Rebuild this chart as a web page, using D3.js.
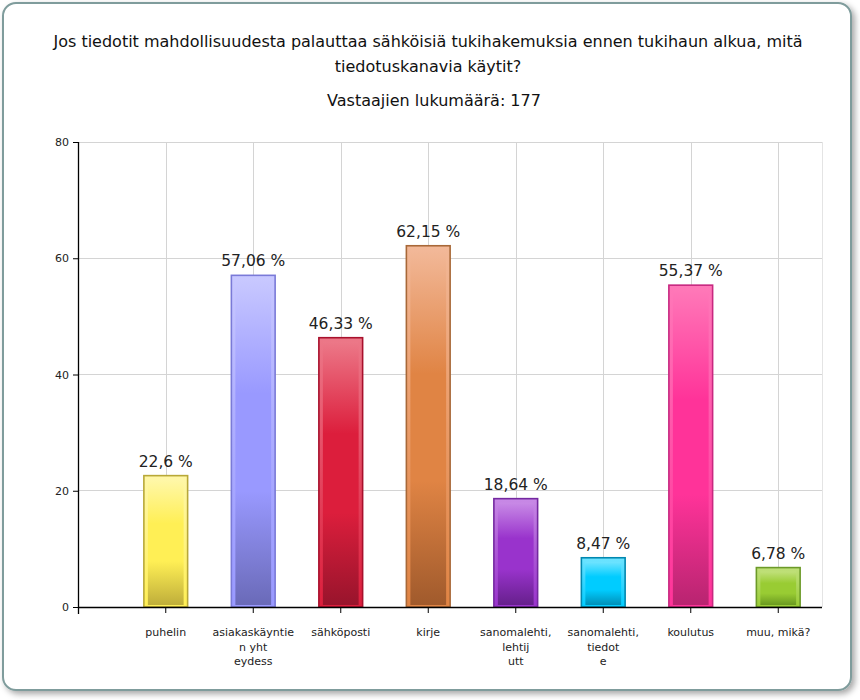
<!DOCTYPE html>
<html><head><meta charset="utf-8">
<script src="https://cdn.jsdelivr.net/npm/d3@7"></script>
<style>body{margin:0;background:#fff;}</style>
</head><body>
<script>
const categories = ["puhelin","asiakaskäyntien yhteydess","sähköposti","kirje","sanomalehti, lehtijutt","sanomalehti, tiedote","koulutus","muu, mikä?"];
const labelLines = [["puhelin"],["asiakaskäyntie","n yht","eydess"],["sähköposti"],["kirje"],["sanomalehti,","lehtij","utt"],["sanomalehti,","tiedot","e"],["koulutus"],["muu, mikä?"]];
const values = [22.6,57.06,46.33,62.15,18.64,8.47,55.37,6.78];
const valueLabels = ["22,6 %","57,06 %","46,33 %","62,15 %","18,64 %","8,47 %","55,37 %","6,78 %"];
const yTicks = [0,20,40,60,80];
const barColors = [
 {top:"#fff7a8",mid:"#ffef55",bot:"#bfae3a",edge:"#fff48a",stroke:"#b8a838"},
 {top:"#c8c8ff",mid:"#9999ff",bot:"#6a6ab8",edge:"#b0b0ff",stroke:"#7a7ad8"},
 {top:"#ec7888",mid:"#dc1e3c",bot:"#98142c",edge:"#e65068",stroke:"#a8102c"},
 {top:"#f2b898",mid:"#e08444",bot:"#a05a2c",edge:"#eca070",stroke:"#a86838"},
 {top:"#c88ae6",mid:"#9933cc",bot:"#66208c",edge:"#b060d8",stroke:"#7428a0"},
 {top:"#70e4ff",mid:"#00ccff",bot:"#0090b8",edge:"#40d8ff",stroke:"#0088b0"},
 {top:"#ff78b8",mid:"#ff3399",bot:"#b82470",edge:"#ff5aac",stroke:"#c82880"},
 {top:"#c0e07a",mid:"#99cc33",bot:"#6a9a20",edge:"#b0d860",stroke:"#6c9a28"}
];
const title1 = "Jos tiedotit mahdollisuudesta palauttaa sähköisiä tukihakemuksia ennen tukihaun alkua, mitä";
const title2 = "tiedotuskanavia käytit?";
const subtitle = "Vastaajien lukumäärä: 177";

const W=860,H=700;
const svg=d3.select("body").append("svg").attr("width",W).attr("height",H);
const defs=svg.append("defs");
const f=defs.append("filter").attr("id","sh").attr("x","-5%").attr("y","-5%").attr("width","115%").attr("height","115%");
f.append("feDropShadow").attr("dx",3).attr("dy",3).attr("stdDeviation",3).attr("flood-color","#000").attr("flood-opacity",0.35);
svg.append("rect").attr("x",3).attr("y",3).attr("width",848).attr("height",687).attr("rx",13)
  .attr("fill","#fff").attr("stroke","#7f9c9c").attr("stroke-width",2).attr("filter","url(#sh)");

const font="'DejaVu Sans', Verdana, sans-serif";
svg.append("text").attr("x",428).attr("y",47).attr("text-anchor","middle").attr("font-family",font).attr("font-size",16).attr("fill","#111").text(title1);
svg.append("text").attr("x",428).attr("y",72).attr("text-anchor","middle").attr("font-family",font).attr("font-size",16).attr("fill","#111").text(title2);
svg.append("text").attr("x",434).attr("y",106).attr("text-anchor","middle").attr("font-family",font).attr("font-size",16).attr("fill","#111").text(subtitle);

const x0=79,x1=822;
const y=d3.scaleLinear().domain([0,80]).range([607,142]);
const x=d3.scaleBand().domain(categories).range([122,822]).paddingInner(0.5).paddingOuter(0.25);

// gridlines
const g=svg.append("g");
g.selectAll(".hg").data(yTicks.filter(d=>d>0)).enter().append("line")
  .attr("x1",x0).attr("x2",x1).attr("y1",d=>y(d)).attr("y2",d=>y(d)).attr("stroke","#d4d4d4").attr("stroke-width",1).attr("shape-rendering","crispEdges");
g.selectAll(".vg").data(categories).enter().append("line")
  .attr("x1",d=>Math.round(x(d)+x.bandwidth()/2)+0.5).attr("x2",d=>Math.round(x(d)+x.bandwidth()/2)+0.5)
  .attr("y1",y(80)).attr("y2",y(0)).attr("stroke","#d4d4d4").attr("stroke-width",1);
g.append("line").attr("x1",x1+0.5).attr("x2",x1+0.5).attr("y1",y(80)).attr("y2",y(0)).attr("stroke","#e4e4e4");

// bars
categories.forEach((c,i)=>{
  const col=barColors[i];
  const gid="g"+i, eid="e"+i;
  const lg=defs.append("linearGradient").attr("id",gid).attr("x1",0).attr("y1",0).attr("x2",0).attr("y2",1);
  [[0,col.top],[0.35,col.mid],[0.65,col.mid],[1,col.bot]].forEach(s=>lg.append("stop").attr("offset",s[0]).attr("stop-color",s[1]));
  const le=defs.append("linearGradient").attr("id",eid).attr("x1",0).attr("y1",0).attr("x2",0).attr("y2",1);
  [[0,col.top],[0.4,col.edge],[1,col.mid]].forEach(s=>le.append("stop").attr("offset",s[0]).attr("stop-color",s[1]));
});
const bars=svg.append("g").selectAll("g").data(values).enter().append("g");
bars.append("rect").attr("x",(d,i)=>x(categories[i])).attr("y",d=>y(d)).attr("width",x.bandwidth()).attr("height",d=>y(0)-y(d))
  .attr("fill",(d,i)=>"url(#e"+i+")").attr("stroke",(d,i)=>barColors[i].stroke).attr("stroke-width",1.6);
bars.append("rect").attr("x",(d,i)=>x(categories[i])+4).attr("y",d=>y(d)+4).attr("width",x.bandwidth()-8).attr("height",d=>Math.max(0,y(0)-y(d)-6))
  .attr("fill",(d,i)=>"url(#g"+i+")");
bars.append("text").attr("x",(d,i)=>x(categories[i])+x.bandwidth()/2).attr("y",d=>y(d)-9).attr("text-anchor","middle")
  .attr("font-family",font).attr("font-size",15.5).attr("fill","#222").text((d,i)=>valueLabels[i]);

// axes
const ya=svg.append("g").attr("transform",`translate(${x0},0)`)
  .call(d3.axisLeft(y).tickValues(yTicks).tickSize(6).tickPadding(4).tickFormat(d3.format("d")));
ya.select(".domain").remove();
ya.selectAll("text").attr("font-family",font).attr("font-size",11).attr("fill","#222");
ya.selectAll("line").attr("stroke","#000");
svg.append("line").attr("x1",x0-0.5).attr("x2",x0-0.5).attr("y1",y(80)).attr("y2",y(0)+7).attr("stroke","#000").attr("stroke-width",1.3);

const xa=svg.append("g").attr("transform",`translate(0,${y(0)})`)
  .call(d3.axisBottom(x).tickSize(6).tickFormat(""));
xa.select(".domain").remove();
xa.selectAll("line").attr("stroke","#000");
svg.append("line").attr("x1",x0-1).attr("x2",x1).attr("y1",y(0)+0.5).attr("y2",y(0)+0.5).attr("stroke","#000").attr("stroke-width",1.3);
const xl=svg.append("g");
categories.forEach((c,i)=>{
  const t=xl.append("text").attr("x",x(c)+x.bandwidth()/2).attr("y",636).attr("text-anchor","middle")
    .attr("font-family",font).attr("font-size",11).attr("fill","#222");
  labelLines[i].forEach((ln,j)=>t.append("tspan").attr("x",x(c)+x.bandwidth()/2).attr("dy",j?14.5:0).text(ln));
});
</script>
</body></html>
